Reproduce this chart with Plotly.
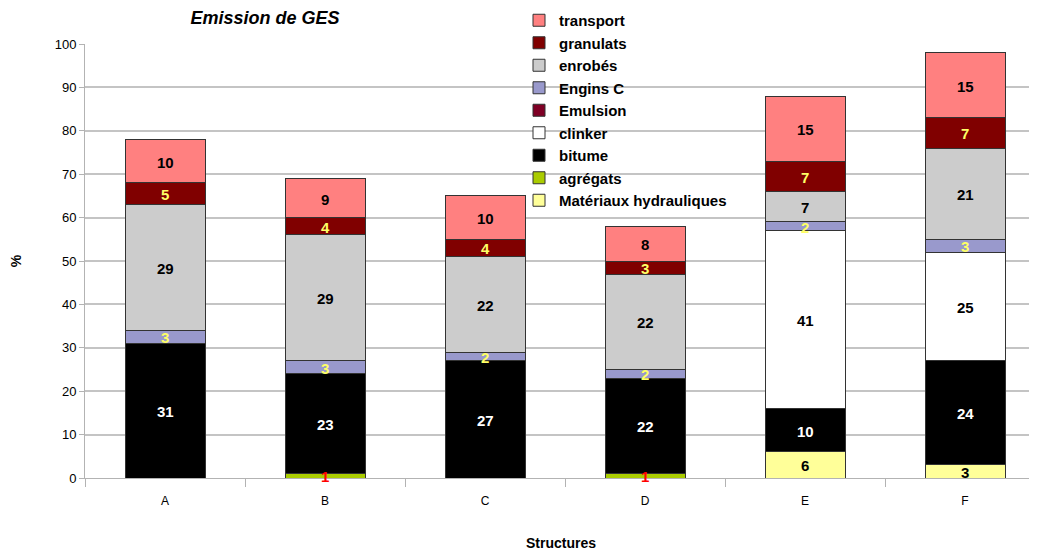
import plotly.graph_objects as go

categories = ["A", "B", "C", "D", "E", "F"]

# stack order, bottom to top
series_names = ["Matériaux hydrauliques", "agrégats", "bitume", "clinker", "Emulsion",
                "Engins C", "enrobés", "granulats", "transport"]
materiaux = [0, 0, 0, 0, 6, 3]
agregats = [0, 1, 0, 1, 0, 0]
bitume = [31, 23, 27, 22, 10, 24]
clinker = [0, 0, 0, 0, 41, 25]
emulsion = [0, 0, 0, 0, 0, 0]
engins = [3, 3, 2, 2, 2, 3]
enrobes = [29, 29, 22, 22, 7, 21]
granulats = [5, 4, 4, 3, 7, 7]
transport = [10, 9, 10, 8, 15, 15]

series_values = [materiaux, agregats, bitume, clinker, emulsion, engins, enrobes, granulats, transport]
fill_colors = ["#FFFF99", "#AACC00", "#000000", "#FFFFFF", "#7F0025",
               "#9999CC", "#CCCCCC", "#800000", "#FF8080"]
label_colors = ["#000000", "#FF0000", "#FFFFFF", "#000000", "#FFFF66",
                "#FFFF66", "#000000", "#FFFF66", "#000000"]

FONT = "Liberation Sans, Arial, sans-serif"
W, H = 1029, 546  # page has an 8px body margin

fig = go.Figure()
for i, (name, vals) in enumerate(zip(series_names, series_values)):
    fig.add_trace(go.Bar(
        x=categories, y=vals, name=name,
        marker=dict(color=fill_colors[i], line=dict(color="#333333", width=1)),
        width=0.5, hoverinfo="skip",
    ))

# value labels, drawn on top of all bars (centre of each stacked segment)
base = [0] * len(categories)
for i, vals in enumerate(series_values):
    for j, v in enumerate(vals):
        if v:
            fig.add_annotation(
                x=categories[j], y=base[j] + v / 2, text=f"<b>{v}</b>",
                showarrow=False, xanchor="center", yanchor="middle", yshift=-1,
                font=dict(family=FONT, size=15, color=label_colors[i]),
            )
        base[j] += v

fig.update_layout(
    barmode="stack",
    width=W, height=H,
    margin=dict(l=77, r=0, t=36, b=76, autoexpand=False),
    plot_bgcolor="white", paper_bgcolor="white",
    font=dict(family=FONT, color="#000000"),
    title=dict(text="<b><i>Emission de GES</i></b>", x=257/W, xanchor="center", xref="container",
               y=1 - 10/H, yanchor="middle", yref="container",
               font=dict(size=18, family=FONT, color="#000000")),
    legend=dict(x=(511-77)/952, xanchor="left", y=1 + 40/434, yanchor="top",
                traceorder="reversed", bgcolor="rgba(0,0,0,0)",
                font=dict(size=15, family=FONT, color="#000000", weight="bold"),
                itemclick=False, borderwidth=0),
    showlegend=True,
    xaxis=dict(range=[-0.5, 5.45], showgrid=False, showline=True, linecolor="#B3B3B3",
               linewidth=1, ticks="outside", tickson="boundaries", ticklen=8, automargin=False,
               ticklabelstandoff=12,
               tickcolor="#B3B3B3", tickfont=dict(size=12, family=FONT, color="#000000"),
               title=dict(text="<b>Structures</b>", font=dict(size=14, family=FONT), standoff=30)),
    yaxis=dict(range=[0, 100], dtick=10, showgrid=True, gridcolor="#C4C4C4", gridwidth=1.5,
               showline=True, linecolor="#B3B3B3", linewidth=1, ticks="outside", ticklen=5,
               automargin=False,
               tickcolor="#B3B3B3", tickfont=dict(size=13, family=FONT, color="#000000"),
               zeroline=False,
               title=dict(text="<b>%</b>", font=dict(size=14, family=FONT), standoff=40)),
)

fig.write_html("out.html")
